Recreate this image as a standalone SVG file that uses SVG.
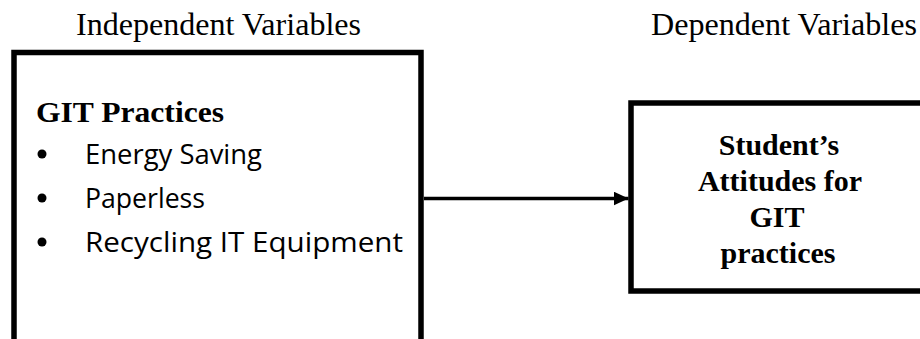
<svg xmlns="http://www.w3.org/2000/svg" width="920" height="339" viewBox="0 0 920 339">
  <style>
    .head { font-family: "Liberation Serif", "Times New Roman", serif; font-size: 31.5px; fill: #000; }
    .title { font-family: "Liberation Serif", "Times New Roman", serif; font-size: 30px; font-weight: bold; fill: #000; }
    .item { font-family: "Open Sans", "Liberation Sans", sans-serif; font-size: 28px; fill: #000; }
    .box { fill: #fff; stroke: #000; stroke-width: 5.5; }
    .link { stroke: #000; stroke-width: 3.5; fill: none; }
  </style>
  <defs>
    <marker id="arrow" markerUnits="userSpaceOnUse" markerWidth="16" markerHeight="16" refX="15" refY="7" orient="auto">
      <path d="M0,0 L15,7 L0,14 Z" fill="#000"/>
    </marker>
  </defs>
  <rect width="920" height="339" fill="#fff"/>

  <!-- column headings -->
  <text class="head" x="76" y="35" textLength="285" lengthAdjust="spacingAndGlyphs">Independent Variables</text>
  <text class="head" x="651" y="35" textLength="266" lengthAdjust="spacingAndGlyphs">Dependent Variables</text>

  <!-- independent variables -->
  <g id="git-practices">
    <rect class="box" x="14" y="52.5" width="407" height="300"/>
    <text class="title" x="36" y="122" font-size="31" textLength="188" lengthAdjust="spacingAndGlyphs">GIT Practices</text>
    <circle cx="42" cy="154" r="4.5"/>
    <text class="item" x="85" y="164" textLength="177" lengthAdjust="spacingAndGlyphs">Energy Saving</text>
    <circle cx="42" cy="198" r="4.5"/>
    <text class="item" x="85" y="208" textLength="120" lengthAdjust="spacingAndGlyphs">Paperless</text>
    <circle cx="42" cy="242" r="4.5"/>
    <text class="item" x="85" y="252" textLength="318" lengthAdjust="spacingAndGlyphs">Recycling IT Equipment</text>
  </g>

  <!-- dependent variable -->
  <g id="student-attitudes">
    <rect class="box" x="631" y="103" width="300" height="188"/>
    <text class="title" x="779" y="155" text-anchor="middle">Student’s</text>
    <text class="title" x="780" y="191" text-anchor="middle">Attitudes for</text>
    <text class="title" x="777" y="227" text-anchor="middle">GIT</text>
    <text class="title" x="778" y="263" text-anchor="middle">practices</text>
  </g>

  <g id="connectors">
    <line class="link" x1="424" y1="198.5" x2="628.5" y2="198.5" marker-end="url(#arrow)"/>
  </g>
</svg>
